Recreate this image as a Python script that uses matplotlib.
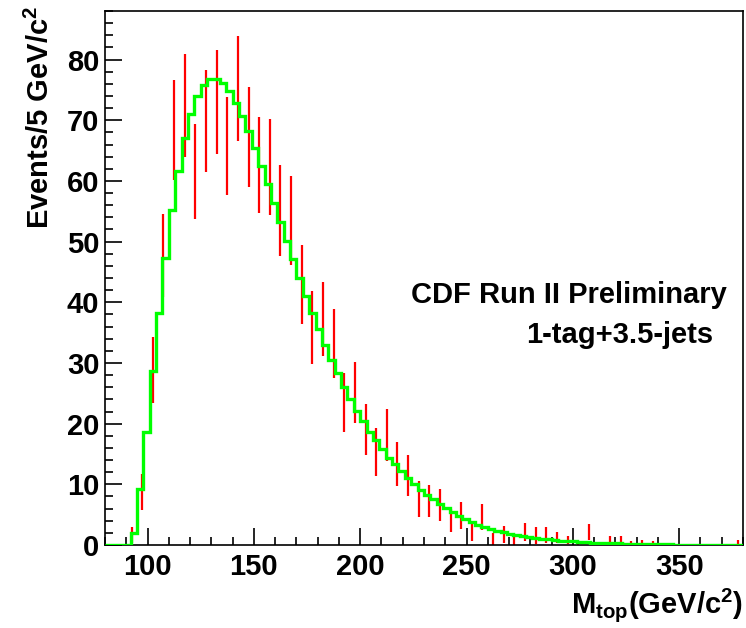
import matplotlib
matplotlib.use("Agg")
import matplotlib.pyplot as plt
from matplotlib.ticker import MultipleLocator
import numpy as np

plt.rcParams['font.family'] = 'Liberation Sans'
plt.rcParams['font.weight'] = 'bold'
plt.rcParams['mathtext.fontset'] = 'custom'
plt.rcParams['mathtext.bf'] = 'Liberation Sans:bold'
plt.rcParams['mathtext.rm'] = 'Liberation Sans:bold'
plt.rcParams['mathtext.default'] = 'bf'

# template histogram (3 GeV bins, 80 -> 380)
tmpl_edges = np.arange(80, 381, 3)
tmpl_counts = [0, 0, 0, 0, 1.9, 9.2, 18.6, 28.6, 38.3, 47.3,
               55.2, 61.7, 67.1, 71.1, 74.0, 75.8, 76.8, 76.8, 76.1, 74.8,
               72.9, 70.7, 68.2, 65.4, 62.5, 59.5, 56.4, 53.3, 50.1, 47.1,
               44.0, 41.1, 38.3, 35.6, 32.9, 30.5, 28.3, 26.1, 24.0, 22.1,
               20.4, 18.7, 17.3, 15.8, 14.4, 13.3, 12.2, 11.0, 10.0, 9.1,
               8.3, 7.6, 6.8, 6.1, 5.4, 4.8, 4.25, 3.75, 3.35, 3.0,
               2.65, 2.35, 2.1, 1.87, 1.65, 1.48, 1.32, 1.17, 1.04, 0.92,
               0.82, 0.73, 0.65, 0.58, 0.52, 0.46, 0.41, 0.36, 0.32, 0.28,
               0.25, 0.22, 0.19, 0.17, 0.15, 0.13, 0.11, 0.10, 0.09, 0.08,
               0.07, 0.06, 0.05, 0.05, 0.04, 0.04, 0.03, 0.03, 0.03, 0.02]

# data (5 GeV bins)
data_centers = np.arange(82.5, 380, 5)
data_counts = [0, 0, 1.65, 8.7, 28.8, 47.7, 68.4, 72.4, 61.6, 69.9,
               73.0, 65.8, 75.2, 67.2, 62.6, 62.3, 55.1, 53.5, 43.0, 35.9,
               37.2, 33.2, 23.5, 25.1, 19.0, 15.3, 18.1, 13.4, 11.5, 7.6,
               7.2, 6.6, 4.0, 4.9, 2.1, 4.6, 1.0, 1.8, 0.9, 2.1,
               1.55, 1.65, 1.2, 0.85, 0.2, 2.1, 0.1, 1.0, 1.0, 0.5,
               0.6, 0.45, 0, 0, 0, 0, 0, 0, 0, 0.5]
data_errors = [0, 0, 1.35, 2.95, 5.4, 6.8, 8.25, 8.45, 7.85, 8.4,
               8.55, 8.1, 8.65, 8.2, 7.95, 7.9, 7.5, 7.3, 6.5, 6.0,
               6.1, 5.7, 4.8, 5.0, 4.25, 3.9, 4.25, 3.6, 3.35, 2.95,
               2.65, 2.6, 1.9, 2.2, 1.4, 2.15, 1.0, 1.4, 0.9, 1.5,
               1.35, 1.35, 0.9, 0.65, 0.2, 1.35, 0.1, 0.5, 0.5, 0.2,
               0.3, 0.15, 0, 0, 0, 0, 0, 0, 0, 0.4]

fig = plt.figure(figsize=(7.46, 6.28), dpi=100)
ax = fig.add_axes([105/746, 1 - 545/628, (743 - 105)/746, (545 - 11)/628])

y = np.array(data_counts)
e = np.array(data_errors)
keep = y > 0
ax.vlines(data_centers[keep], y[keep] - e[keep], y[keep] + e[keep],
          color='red', lw=1.6, zorder=2)

ax.stairs(tmpl_counts, tmpl_edges, baseline=None, color='#00ff00', lw=2.4, zorder=3)

ax.set_xlim(80, 380)
ax.set_ylim(0, 88)
ax.xaxis.set_major_locator(MultipleLocator(50))
ax.xaxis.set_minor_locator(MultipleLocator(10))
ax.yaxis.set_major_locator(MultipleLocator(10))
ax.yaxis.set_minor_locator(MultipleLocator(2))
ax.tick_params(which='both', direction='in', top=False, right=False,
               labelsize=21, width=1.2)
ax.tick_params(which='major', length=12.5)
ax.tick_params(which='minor', length=6)
ax.tick_params(axis='x', pad=6)
ax.tick_params(axis='y', pad=4)
for s in ax.spines.values():
    s.set_linewidth(1.2)

fig.text(40/746, 1 - 6/628, "Events/5 GeV/c$^{2}$", rotation=90,
         ha='center', va='top', fontsize=21, fontweight='bold')
fig.text(743/746, 1 - 613/628, "M$_{top}$(GeV/c$^{2}$)", ha='right',
         va='baseline', fontsize=21, fontweight='bold')

fig.text(727/746, 1 - 303/628, "CDF Run II Preliminary", ha='right',
         va='baseline', fontsize=21, fontweight='bold')
fig.text(713/746, 1 - 343/628, "1-tag+3.5-jets", ha='right',
         va='baseline', fontsize=21, fontweight='bold')

fig.savefig("out.png", dpi=100)
